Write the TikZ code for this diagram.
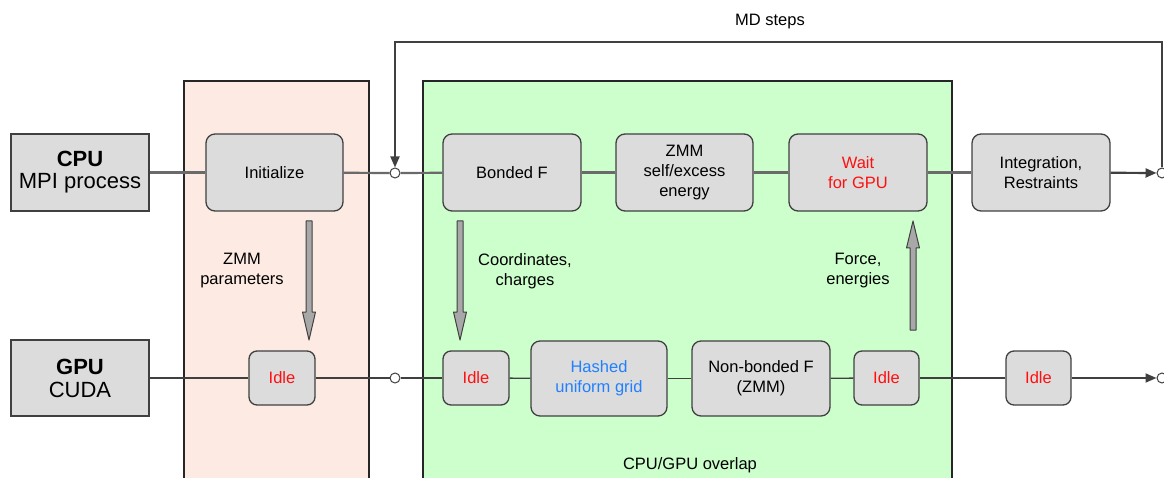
\documentclass[tikz,border=0pt]{standalone}
\usepackage{fontspec}
\setmainfont{Liberation Sans}
\usetikzlibrary{arrows.meta,calc}
\definecolor{boxfill}{HTML}{DCDCDC}
\definecolor{boxline}{HTML}{404040}
\definecolor{pinkfill}{HTML}{FDEAE3}
\definecolor{greenfill}{HTML}{CCFFCC}
\definecolor{cpuline}{HTML}{6A6A6A}
\definecolor{gpuline}{HTML}{404040}
\definecolor{idlered}{HTML}{FF1010}
\definecolor{hashblue}{HTML}{2080FF}
\definecolor{fatgray}{HTML}{A8A8A8}
\newcommand\fatdown[2]{\filldraw[fatarr] let \p1=(#1), \p2=(#2) in
  (\x1-3pt,\y1) -- (\x1+3pt,\y1) -- (\x1+3pt,\y2+28pt) -- (\x1+6.5pt,\y2+28pt)
  -- (\x1,\y2) -- (\x1-6.5pt,\y2+28pt) -- (\x1-3pt,\y2+28pt) -- cycle;}
\newcommand\fatup[2]{\filldraw[fatarr] let \p1=(#1), \p2=(#2) in
  (\x1-3pt,\y1) -- (\x1+3pt,\y1) -- (\x1+3pt,\y2-27pt) -- (\x1+6.5pt,\y2-27pt)
  -- (\x1,\y2) -- (\x1-6.5pt,\y2-27pt) -- (\x1-3pt,\y2-27pt) -- cycle;}
\begin{document}
\begin{tikzpicture}[x=1pt,y=-1pt,
  txt/.style={font=\fontsize{16.5}{20}\selectfont,align=center,inner sep=0pt},
  unit/.style={rectangle,fill=boxfill,draw=boxline,line width=1.3pt,txt},
  proc/.style={unit,rounded corners=9pt},
  idle/.style={proc,text=idlered,rounded corners=8pt},
  head/.style={rectangle,fill=boxfill,draw=boxline,line width=1.3pt,align=center,
    font=\fontsize{22}{25}\selectfont,inner sep=0pt,minimum width=138pt},
  junc/.style={circle,fill=white,draw=boxline,line width=1pt,minimum size=10pt,inner sep=0pt},
  cpuwire/.style={draw=cpuline,line width=2.2pt},
  gpuwire/.style={draw=gpuline,line width=1.3pt},
  tip/.style={-{Triangle[length=11pt,width=9pt]}},
  fatarr/.style={fill=fatgray,draw=boxline,line width=1pt,line join=round},
  region/.style={draw=black!85,line width=1.2pt}]
\useasboundingbox (0,0) rectangle (1164,478);
\begin{scope}
\clip (0,0) rectangle (1164,478);
% regions
\path[region,fill=pinkfill] (184,81) rectangle (369,490);
\path[region,fill=greenfill] (423,81) rectangle (952,490);
\end{scope}
% headers
\node[head,minimum height=77pt] (cpu) at (80,172.5) {\textbf{CPU}\\[-3pt]MPI process};
\node[head,minimum height=76pt] (gpu) at (80,378) {\textbf{GPU}\\[-2pt]CUDA};
% CPU row
\node[proc,minimum width=137pt,minimum height=77pt] (init) at (274.5,172.5) {Initialize};
\node[junc] (j1) at (395,173) {};
\node[proc,minimum width=138pt,minimum height=77pt] (bonded) at (512,172.5) {Bonded F};
\node[proc,minimum width=137pt,minimum height=77pt] (zmm) at (684.5,172.5) {ZMM\\self/excess\\energy};
\node[proc,minimum width=138pt,minimum height=77pt,text=idlered] (wait) at (858,172.5) {Wait\\for GPU};
\node[proc,minimum width=138pt,minimum height=77pt] (integ) at (1041,172.5) {Integration,\\Restraints};
\node[junc] (j2) at (1162,173) {};
% GPU row
\node[idle,minimum width=66pt,minimum height=54pt] (idle1) at (282,378) {Idle};
\node[junc] (j3) at (395,378) {};
\node[idle,minimum width=66pt,minimum height=54pt] (idle2) at (476,378) {Idle};
\node[proc,minimum width=136pt,minimum height=75pt,text=hashblue] (hash) at (599,378.5) {Hashed\\uniform grid};
\node[proc,minimum width=138pt,minimum height=75pt] (nonb) at (761,378.5) {Non-bonded F\\(ZMM)};
\node[idle,minimum width=65pt,minimum height=54pt] (idle3) at (886.5,378) {Idle};
\node[idle,minimum width=65pt,minimum height=54pt] (idle4) at (1038.5,378) {Idle};
\node[junc] (j4) at (1162,378) {};
% CPU wires
\draw[cpuwire] (cpu) -- (init);
\draw[cpuwire] (init) -- (j1);
\draw[cpuwire] (j1) -- (bonded);
\draw[cpuwire] (bonded) -- (zmm);
\draw[cpuwire] (zmm) -- (wait);
\draw[cpuwire] (wait) -- (integ);
\draw[cpuwire,draw=boxline,tip] (integ) -- (j2);
% GPU wires
\draw[gpuwire] (gpu) -- (idle1);
\draw[gpuwire] (idle1) -- (j3);
\draw[gpuwire] (j3) -- (idle2);
\draw[gpuwire] (idle2) -- (hash);
\draw[gpuwire] (hash) -- (nonb);
\draw[gpuwire] (nonb) -- (idle3);
\draw[gpuwire] (idle3) -- (idle4);
\draw[gpuwire,line width=1.8pt,tip] (idle4) -- (j4);
% MD steps loop
\coordinate (loopR) at (1162,42);
\coordinate (loopL) at (395,42);
\draw[draw=boxline,line width=1.8pt,tip] (j2.north) -- (loopR) -- (loopL) -- (j1.north);
\node[txt] (mdlab) at (770,22) {MD steps};
% transfer arrows
\coordinate (zpA) at (309,221);
\coordinate (zpB) at (309,340);
\fatdown{zpA}{zpB}
\node[txt] (zplab) at (242,270.5) {ZMM\\parameters};
\coordinate (ccA) at (460,221);
\coordinate (ccB) at (460,340);
\fatdown{ccA}{ccB}
\node[txt] (cclab) at (525,271) {Coordinates,\\charges};
\coordinate (feA) at (913,330);
\coordinate (feB) at (913,221);
\fatup{feA}{feB}
\node[txt] (felab) at (858,271) {Force,\\energies};
\node[txt] (ovlab) at (690,465) {CPU/GPU overlap};
\end{tikzpicture}
\end{document}
